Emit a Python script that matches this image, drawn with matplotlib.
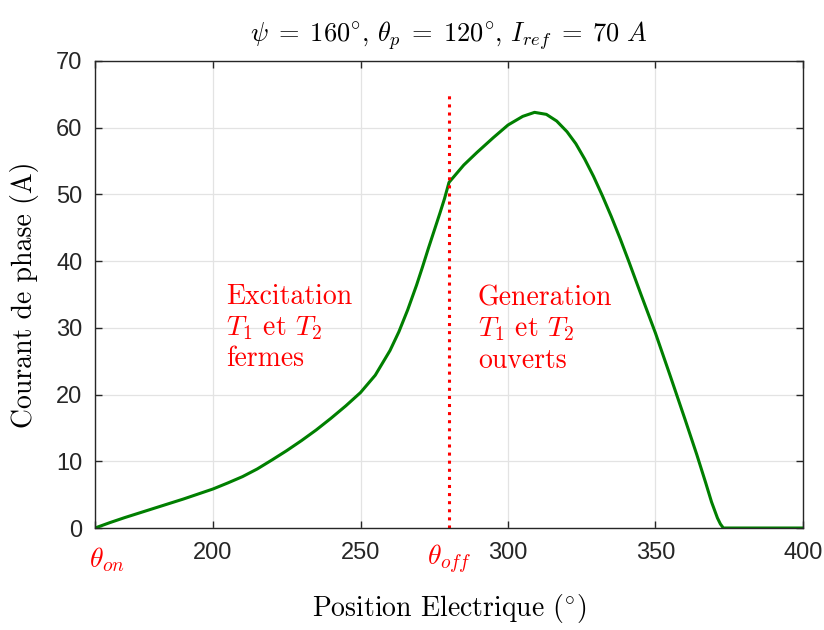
import numpy as np
import matplotlib
matplotlib.use('Agg')
import matplotlib.pyplot as plt

plt.rcParams['mathtext.fontset'] = 'cm'
plt.rcParams['axes.unicode_minus'] = False

# phase current vs electrical position
position = [160, 165, 170, 175, 180, 185, 190, 195, 200, 205, 210, 215, 220,
            225, 230, 235, 240, 245, 250, 255, 260, 263, 266, 269, 271, 273,
            275, 277, 278.5, 280, 285, 289.5, 295, 300, 305, 309, 313, 316.5,
            320, 323, 326, 329, 332, 335, 338, 341, 345, 350, 355, 360, 364,
            367, 369, 371, 372, 373, 380, 390, 400]
current = [0.0, 0.8, 1.55, 2.25, 2.95, 3.65, 4.35, 5.1, 5.85, 6.75, 7.7, 8.85, 10.2,
           11.6, 13.1, 14.7, 16.45, 18.3, 20.3, 22.9, 26.6, 29.4, 32.7, 36.4, 39.1, 41.9,
           44.6, 47.3, 49.4, 51.8, 54.4, 56.3, 58.5, 60.4, 61.7, 62.3, 62.0, 61.0,
           59.4, 57.6, 55.3, 52.7, 49.8, 46.7, 43.4, 39.9, 35.1, 29.2, 22.8, 16.3, 11.0,
           6.8, 3.9, 1.5, 0.6, 0.0, 0.0, 0.0, 0.0]

theta_off = 280
xticks = [160, 200, 250, 300, 350, 400]
xtick_labels = ['', '200', '250', '300', '350', '400']
yticks = [0, 10, 20, 30, 40, 50, 60, 70]

fig = plt.figure(figsize=(8.24, 6.30), dpi=100)
ax = fig.add_axes([0.1153, 0.1619, 0.8592, 0.7413])

ax.plot(position, current, color='#007f00', linewidth=2.2)
ax.plot([theta_off, theta_off], [0, 65.3], color='red', linestyle=':', linewidth=2.2)

ax.set_xlim(160, 400)
ax.set_ylim(0, 70)
ax.set_xticks(xticks)
ax.set_xticklabels(xtick_labels)
ax.set_yticks(yticks)
ax.grid(True, color='#e3e3e3', linewidth=0.9)
ax.set_axisbelow(True)
ax.tick_params(direction='in', top=True, right=True, length=5, width=1,
               color='#262626', labelsize=17)
ax.tick_params(axis='x', pad=10)
ax.tick_params(axis='y', pad=9)
for lab in ax.get_xticklabels() + ax.get_yticklabels():
    lab.set_fontfamily('Liberation Sans')
    lab.set_color('#262626')
for s in ax.spines.values():
    s.set_color('#262626')
    s.set_linewidth(1.0)

ax.text(164, -2.6, r'$\theta_{on}$', color='red', fontsize=20,
        ha='center', va='top')
ax.text(theta_off, -2.2, r'$\theta_{off}$', color='red', fontsize=20,
        ha='center', va='top')

ax.text(204.4, 36.6, 'Excitation\n$T_1$ et $T_2$\nfermes', color='red',
        fontsize=20, family='cmr10', ha='left', va='top', linespacing=1.2)
ax.text(289.8, 36.4, 'Generation\n$T_1$ et $T_2$\nouverts', color='red',
        fontsize=20, family='cmr10', ha='left', va='top', linespacing=1.2)

ax.set_title(r'$\psi \;=\; 160^{\circ},\, \theta_p \;=\; 120^{\circ},\, I_{ref} \;=\; 70\ A$',
             fontsize=19, pad=14)
ax.set_xlabel(r'Position Electrique ($^{\circ}$)', family='cmr10', fontsize=20,
              labelpad=20)
ax.set_ylabel('Courant de phase (A)', family='cmr10', fontsize=20, labelpad=12)

fig.savefig('out.png', dpi=100)
